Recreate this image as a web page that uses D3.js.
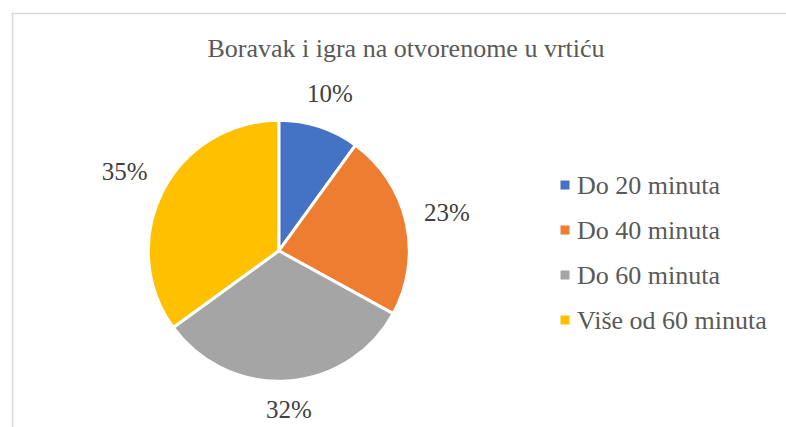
<!DOCTYPE html>
<html><head><meta charset="utf-8">
<script src="https://cdn.jsdelivr.net/npm/d3@7"></script>
</head><body style="margin:0">
<script>
const categories = ["Do 20 minuta", "Do 40 minuta", "Do 60 minuta", "Više od 60 minuta"];
const values = [10, 23, 32, 35];
const labels = ["10%", "23%", "32%", "35%"];
const colors = ["#4472C4", "#ED7D31", "#A5A5A5", "#FFC000"];
const title = "Boravak i igra na otvorenome u vrtiću";

const W = 786, H = 427;
const svg = d3.select("body").append("svg").attr("width", W).attr("height", H)
  .style("display", "block");
svg.append("rect").attr("x", 12.5).attr("y", 13.5).attr("width", W).attr("height", H)
  .attr("fill", "#fff").attr("stroke", "#d9d9d9").attr("stroke-width", 1.5);

function serif(sel) {
  return sel.attr("font-family", "Liberation Serif").style("font-family", '"Liberation Serif", "Times New Roman", Tinos, FreeSerif');
}

serif(svg.append("text")).attr("font-size", 26).attr("x", 406).attr("y", 57)
  .attr("text-anchor", "middle").attr("fill", "#595959").text(title);

const cx = 278.8, cy = 250.8, R = 130.5;
const pie = d3.pie().sort(null).value(d => d);
const arcs = pie(values);
const arc = d3.arc().innerRadius(0).outerRadius(R);
const g = svg.append("g").attr("transform", `translate(${cx},${cy})`);
g.selectAll("path").data(arcs).join("path")
  .attr("d", arc).attr("fill", (d, i) => colors[i])
  .attr("stroke", "#fff").attr("stroke-width", 3).attr("stroke-linejoin", "round");

const gap = 17, lh = 22;
serif(g.selectAll("text.lbl").data(arcs).join("text").attr("class", "lbl"))
  .attr("font-size", 25).attr("fill", "#404040").attr("text-anchor", "middle")
  .text((d, i) => labels[i])
  .each(function(d) {
    const w = this.getComputedTextLength();
    const a = (d.startAngle + d.endAngle) / 2;
    const ux = Math.sin(a), uy = -Math.cos(a);
    const r = R + gap + Math.abs(ux) * w / 2 + Math.abs(uy) * lh / 2;
    d3.select(this).attr("x", ux * r).attr("y", uy * r + 8);
  });

const legend = svg.append("g");
const ly = d3.scalePoint().domain(categories).range([185, 320]);
const items = legend.selectAll("g").data(categories).join("g")
  .attr("transform", d => `translate(565,${ly(d)})`);
items.append("rect").attr("x", -4.5).attr("y", -4.5).attr("width", 9).attr("height", 9)
  .attr("fill", (d, i) => colors[i]);
serif(items.append("text")).attr("x", 12).attr("y", 8.5)
  .attr("font-size", 26).attr("fill", "#595959").text(d => d);
</script>
</body></html>
